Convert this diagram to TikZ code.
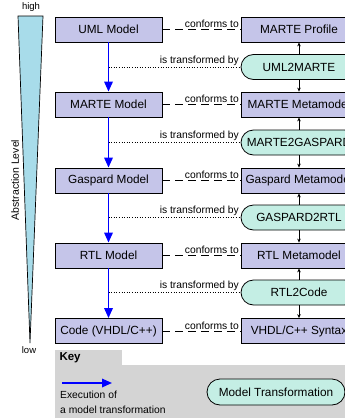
\documentclass[tikz,border=0pt]{standalone}
\usepackage{fontspec}
\setmainfont{Liberation Sans}
\usetikzlibrary{arrows.meta}

\definecolor{modelfill}{RGB}{197,197,233}
\definecolor{transfill}{RGB}{196,238,228}
\definecolor{keygray}{RGB}{212,212,212}
\definecolor{levelfill}{RGB}{168,220,234}

\begin{document}
\begin{tikzpicture}[x=1pt, y=-1pt,
    model/.style={draw, line width=0.8pt, fill=modelfill, minimum width=107pt,
        minimum height=25pt, inner sep=1pt, font=\fontsize{11.8}{13}\selectfont},
    metabox/.style={model, minimum width=116pt},
    trans/.style={draw, line width=0.8pt, fill=transfill, rounded corners=12.5pt,
        minimum width=116pt, minimum height=25pt, inner sep=1pt,
        font=\fontsize{11.8}{13}\selectfont},
    exec/.style={blue, line width=1.7pt, -{Triangle[length=10pt,width=8.5pt]}},
    conf/.style={line width=0.7pt, dash pattern=on 8pt off 5pt},
    tby/.style={line width=0.6pt, dotted},
    uses/.style={line width=0.6pt, -{Stealth[length=4pt,width=3.5pt]}},
    lbl/.style={font=\fontsize{10.3}{12}\selectfont, inner sep=1.5pt}]
    \clip (0,0) rectangle (345,418);

    % Abstraction level wedge
    \draw[line width=0.7pt, fill=levelfill] (18,16) -- (43,16) -- (30,343) -- cycle;
    \node (high) at (31,7) [font=\fontsize{9.5}{11}\selectfont] {high};
    \node (low) at (29,350) [font=\fontsize{9.5}{11}\selectfont] {low};
    \node (level) at (15,180) [rotate=90, font=\fontsize{10.5}{12}\selectfont] {Abstraction Level};

    % Models
    \node (uml) at (108.5,29.5) [model] {UML Model};
    \node (marte) at (108.5,104.5) [model] {MARTE Model};
    \node (gaspard) at (108.5,180.5) [model] {Gaspard Model};
    \node (rtl) at (108.5,255.5) [model] {RTL Model};
    \node (code) at (108.5,331) [model] {Code (VHDL/C++)};

    % Metamodels
    \node (profile) at (299,29.5) [metabox] {MARTE Profile};
    \node (martemm) at (299,104.5) [metabox] {MARTE Metamodel};
    \node (gaspardmm) at (299,180.5) [metabox] {Gaspard Metamodel};
    \node (rtlmm) at (299,255.5) [metabox] {RTL Metamodel};
    \node (syntax) at (299,331) [metabox] {VHDL/C++ Syntax};

    % Transformations
    \node (uml2marte) at (299,67) [trans] {UML2MARTE};
    \node (marte2gaspard) at (299,142.5) [trans] {MARTE2GASPARD};
    \node (gaspard2rtl) at (299,217.5) [trans] {GASPARD2RTL};
    \node (rtl2code) at (299,292.5) [trans] {RTL2Code};

    % conforms to
    \foreach \m/\mm in {uml/profile, marte/martemm, gaspard/gaspardmm, rtl/rtlmm, code/syntax}
        \draw[conf] (\m) -- (\mm) node[pos=1, above left, lbl] {conforms to};

    % executions of transformations
    \draw[exec] (uml) -- (marte);
    \draw[exec] (marte) -- (gaspard);
    \draw[exec] (gaspard) -- (rtl);
    \draw[exec] (rtl) -- (code);

    % is transformed by
    \foreach \t/\m in {uml2marte/uml, marte2gaspard/marte, gaspard2rtl/gaspard, rtl2code/rtl}
        \draw[tby] (\t.west -| \m.south) -- (\t.west) node[pos=1, above left, lbl] {is transformed by};

    % transformations use metamodels
    \draw[uses] (uml2marte) -- (profile);
    \draw[uses] (uml2marte) -- (martemm);
    \draw[uses] (marte2gaspard) -- (martemm);
    \draw[uses] (marte2gaspard) -- (gaspardmm);
    \draw[uses] (gaspard2rtl) -- (gaspardmm);
    \draw[uses] (gaspard2rtl) -- (rtlmm);
    \draw[uses] (rtl2code) -- (rtlmm);
    \draw[uses] (rtl2code) -- (syntax);

    % Key
    \fill[keygray] (55,350) rectangle (122,366);
    \fill[keygray] (55,365) rectangle (345,418);
    \node (key) at (56,358) [anchor=west, font=\fontsize{11.5}{13}\selectfont\bfseries] {Key};
    \coordinate (keystart) at (62,383);
    \coordinate (keyend) at (112,383);
    \draw[exec] (keystart) -- (keyend);
    \node (keyexec) at (59,402.5) [anchor=west, align=left, inner sep=1pt,
        font=\fontsize{10.3}{14.5}\selectfont] {Execution of\\a model transformation};
    \node (keytrans) at (276,392) [trans, minimum width=138pt, minimum height=26pt, rounded corners=13pt] {Model Transformation};
\end{tikzpicture}
\end{document}
